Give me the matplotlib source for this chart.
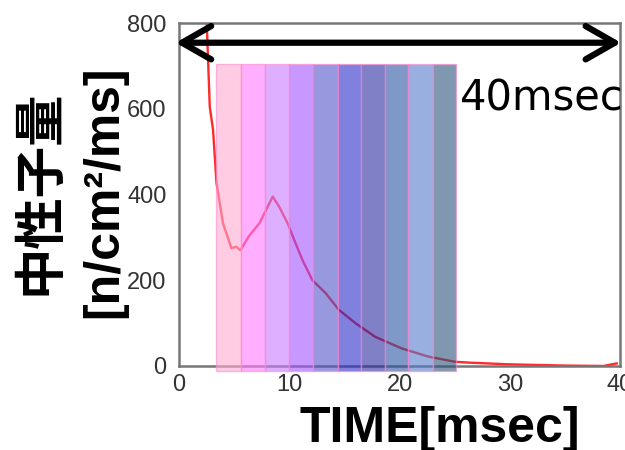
import matplotlib
matplotlib.use("Agg")
import matplotlib.pyplot as plt

# neutron flux curve (time in msec, flux in n/cm2/ms)
t = [2.3, 2.52, 2.79, 3.09, 3.40, 3.99, 4.75, 5.20, 5.56, 6.40, 7.30, 7.90, 8.50,
     9.10, 9.85, 10.45, 11.2, 12.1, 13.3, 14.5, 16.0, 17.8, 20.2, 22.6, 25.0,
     26.2, 29.8, 35.0, 38.5, 39.7]
flux = [850, 797, 605, 550, 427, 333, 275, 278, 270, 305, 333, 364, 395,
        371, 333, 294, 247, 200, 170, 131, 100, 68, 41, 22, 10,
        8, 4, 1, 0, 6]

# time windows (edges) and colours
win_edges = [3.40, 5.65, 7.81, 10.0, 12.19, 14.39, 16.55, 18.65, 20.81, 23.0, 25.16]
win_colors = ["#FFAAD2", "#FF7BFF", "#CB7BFF", "#A353FF", "#5353CB",
              "#2B2BCB", "#2B2BA3", "#2B53A3", "#537BCB", "#2B537B"]
win_bottom = -12
win_top = 705

xticks = [0, 10, 20, 30, 40]
yticks = [0, 200, 400, 600, 800]

tick_font = ["Liberation Sans Narrow", "Liberation Sans"]

fig = plt.figure(figsize=(6.25, 4.5), dpi=100)
ax = fig.add_axes([179/625, 1-366/450, (620-179)/625, (366-23)/450])

ax.plot(t, flux, color="#FF2A2A", lw=1.7, zorder=2)

lefts = win_edges[:-1]
widths = [b - a for a, b in zip(win_edges[:-1], win_edges[1:])]
ax.bar(lefts, win_top - win_bottom, width=widths, bottom=win_bottom, align="edge",
       color=win_colors, alpha=0.6, edgecolor="#FF88CC", linewidth=1.0,
       zorder=3, clip_on=False)

ax.set_xlim(0, 39.7)
ax.set_ylim(0, 800)
ax.set_xticks(xticks)
ax.set_yticks(yticks)
ax.tick_params(length=0, labelsize=17, colors="#333333")
ax.tick_params(axis="y", pad=9)
ax.tick_params(axis="x", pad=6)
for lab in ax.get_xticklabels() + ax.get_yticklabels():
    lab.set_family(tick_font)
for s in ax.spines.values():
    s.set_color("#777777")
    s.set_linewidth(1.8)

# 40 msec double arrow
ax.annotate("", xy=(-0.3, 754), xytext=(40.1, 754),
            arrowprops=dict(arrowstyle="<->,head_length=1.05,head_width=0.6",
                            lw=4.5, color="black", shrinkA=0, shrinkB=0,
                            mutation_scale=20),
            annotation_clip=False, zorder=5)
ax.text(25.5, 597, "40msec", fontsize=30, family="DejaVu Sans",
        ha="left", va="baseline", zorder=6, clip_on=False)

fig.text(440/625, 1-442/450, "TIME[msec]", fontsize=36, fontweight="bold",
         family="Liberation Sans", ha="center", va="baseline")
fig.text(39/625, 1-192/450, "中性子量", fontsize=37, fontweight="bold",
         family=["Noto Sans CJK JP", "DejaVu Sans"], rotation=90,
         ha="center", va="center")
fig.text(104/625, 1-192/450, "[n/cm²/ms]", fontsize=36, fontweight="bold",
         family="Liberation Sans", rotation=90, ha="center", va="center")

fig.savefig("out.png", dpi=100)
